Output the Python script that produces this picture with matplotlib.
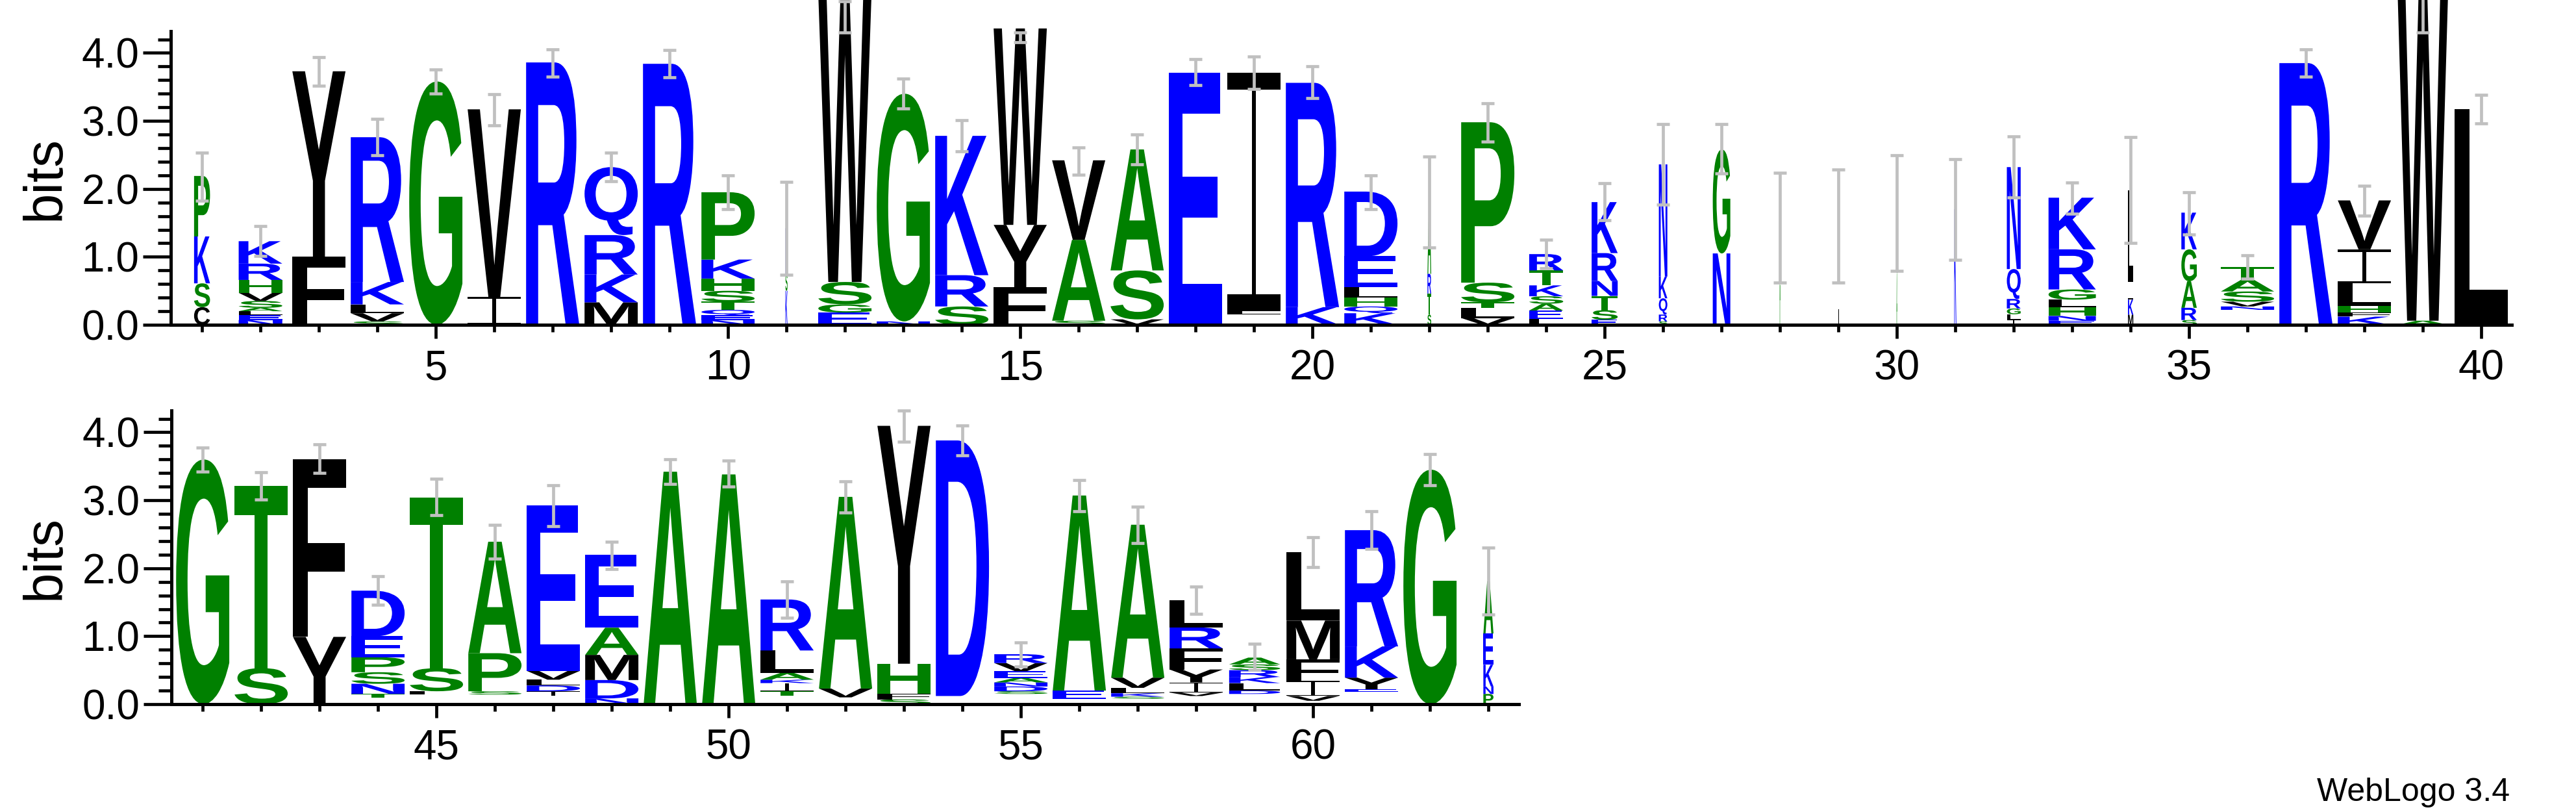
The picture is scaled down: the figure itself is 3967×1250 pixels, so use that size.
import matplotlib
matplotlib.use('Agg')
import matplotlib.pyplot as plt
from matplotlib.textpath import TextPath
from matplotlib.font_manager import FontProperties
from matplotlib.patches import PathPatch
from matplotlib.path import Path
from matplotlib.transforms import Affine2D
from matplotlib.ticker import MultipleLocator, FormatStrFormatter

plt.rcParams['font.family'] = ['Liberation Sans', 'DejaVu Sans']

# letters of each stack, bottom to top ('.' = residue too small to be drawn)
stack_letters = [
    'CSKP', 'NELASVHRK', 'FY', 'SVLKR', 'G', 'IV', 'R', 'MKRQ', 'R', 'NEQTSHKP',
    'KSR', 'EGSW', 'NG', 'SRK', 'FYW', 'SAV', 'VSA', 'E', '.LI', 'KR',
    'KQHLED', 'STRA', 'VLTSP', 'LEASKTR', 'ESTNRK', 'SRQKN', 'NG', 'A', 'L', 'AL',
    'K', 'ILGRQN', 'ENHLGRK', 'MKIL', 'SRAGK', '.NVSAT', 'R', 'KFHLIV', 'AW', 'L',
    'G', 'ST', 'YF', '.TNSPED', '.LST', '.SPA', '.IDLVE', 'NDMAE', 'A', 'A',
    '.TIKALR', '.VA', 'SFHY', '.D', '.SDNAEVR', '.EA', '.SKLVA', '.VIYFRL', '.DLKRSA', '.VIFML',
    '.EYKR', 'G', 'PNKEA',
]

# letter heights in bits, same order
stack_heights = [
    [.26, .35, .69, .89], [.07, .07, .06, .05, .10, .12, .19, .24, .33], [1.0, 2.73],
    [.05, .12, .13, .33, 2.13], [3.58], [.41, 2.76], [3.86], [.33, .41, .58, 1.0], [3.84],
    [.07, .07, .08, .12, .16, .18, .28, .99],
    [.5, .25, .67], [.18, .12, .33, 4.22], [.05, 3.35], [.27, .46, 2.05], [.55, .92, 2.89],
    [.06, 1.19, 1.17], [.08, .72, 1.78], [3.71], [.15, .05, 3.51], [.26, 3.30],
    [.17, .10, .13, .15, .46, .95], [.15, .31, .29, 1.06], [.10, .15, .08, .29, 2.36],
    [.09, .12, .10, .11, .16, .22, .24], [.075, .14, .21, .22, .41, .75],
    [.05, .10, .24, .32, 1.65], [1.05, 1.53], [1.41], [1.43], [.76, .87],
    [1.70], [.07, .085, .085, .14, .44, 1.5], [.06, .07, .13, .11, .15, .59, .76],
    [.15, .22, .28, 1.33], [.07, .18, .39, .47, .54], [.22, .05, .07, .15, .17, .19],
    [3.85], [.12, .06, .10, .33, .50, .72], [.06, 4.84], [3.17],
    [3.60], [.53, 2.68], [.99, 2.61], [.10, .05, .15, .17, .22, .31, .67], [.14, .05, .34, 2.51],
    [.14, .05, .56, 1.64], [.12, .07, .085, .085, .13, 2.43], [.085, .27, .37, .40, 1.07],
    [3.42], [3.38],
    [.12, .07, .12, .05, .10, .33, .75], [.10, .13, 2.82], [.07, .085, .44, 3.5], [.12, 3.76],
    [.15, .04, .07, .06, .065, .10, .12, .13], [.08, .12, 2.87], [.08, .03, .05, .08, .15, 2.25],
    [.12, .05, .15, .19, .31, .31, .40], [.15, .05, .11, .09, .10, .085, .10],
    [.05, .07, .22, .32, .57, 1.01],
    [.18, .04, .17, .46, 1.71], [3.45], [.15, .11, .32, .46, .77],
]

# stack width as fraction of a full column (fraction of non-gap sequences)
stack_widths = [
    .30, .82, 1, 1, 1, 1, 1, 1, 1, 1,
    .04, 1, 1, 1, 1, 1, 1, 1, 1, 1,
    1, .07, 1, .64, .49, .16, .33, .015, .015, .015,
    .04, .26, .89, .10, .29, 1, 1, 1, .95, 1,
    1, 1, 1, 1, 1, 1, 1, 1, 1, 1,
    1, 1, 1, 1, 1, 1, 1, 1, .96, 1,
    1, 1, .19,
]

err_center = [
    2.18, 1.23, 3.73, 2.76, 3.58, 3.16, 3.85, 2.32, 3.84, 1.95,
    1.42, 4.53, 3.40, 2.78, 4.23, 2.41, 2.58, 3.72, 3.71, 3.57,
    1.95, 1.81, 2.98, 1.04, 1.81, 2.36, 2.59, 1.43, 1.45, 1.64,
    1.70, 2.32, 1.86, 1.98, 1.64, 0.85, 3.85, 1.83, 4.62, 3.17,
    3.60, 3.21, 3.61, 1.67, 3.05, 2.39, 2.92, 2.19, 3.42, 3.39,
    1.54, 3.05, 4.09, 3.88, 0.73, 3.07, 2.64, 1.53, 0.70, 2.24,
    2.56, 3.45, 1.81,
]
err_half = [
    .35, .22, .21, .27, .18, .23, .20, .21, .20, .25,
    .68, .23, .22, .23, .07, .20, .22, .19, .24, .23,
    .25, .67, .28, .21, .27, .59, .36, .81, .83, .85,
    .74, .45, .23, .78, .31, .17, .20, .22, .32, .21,
    .18, .20, .21, .21, .27, .25, .30, .20, .18, .19,
    .27, .23, .23, .22, .18, .23, .27, .20, .19, .22,
    .28, .23, .49,
]

colors = {}
for c in 'GSTAPH':
    colors[c] = '#008000'
for c in 'KREDQN':
    colors[c] = '#0000ff'
for c in 'FYVWILMC':
    colors[c] = '#000000'

fp_sans = FontProperties(family='Liberation Sans', weight='bold')
glyphs = {}


def i_beam():
    # WebLogo draws I as an I-beam: full-width bars and a thin stem
    parts = []
    for x0, y0, w, h in [(0, 0, 1, .07), (.46, 0, .08, 1), (0, .93, 1, .07)]:
        parts.append(Affine2D().scale(w, h).translate(x0, y0).transform_path(Path.unit_rectangle()))
    return Path.make_compound_path(*parts)


def draw_letter(ax, ch, x, y, w, h):
    if ch not in glyphs:
        glyphs[ch] = i_beam() if ch == 'I' else TextPath((0, 0), ch, size=1, prop=fp_sans)
    tp = glyphs[ch]
    bb = tp.get_extents()
    t = Affine2D().translate(-bb.x0, -bb.y0).scale(w / bb.width, h / bb.height).translate(x - w / 2, y)
    ax.add_patch(PathPatch(t.transform_path(tp), fc=colors[ch], ec='none', lw=0,
                           clip_on=False, zorder=2))


def draw_row(ax, first, last):
    for pos in range(first, last + 1):
        i = pos - 1
        w = 0.91 * stack_widths[i]
        y = 0
        for ch, h in zip(stack_letters[i], stack_heights[i]):
            if ch != '.':
                draw_letter(ax, ch, pos, y, w, h)
            y += h
    xs = list(range(first, last + 1))
    eb = ax.errorbar(xs, err_center[first - 1:last], yerr=err_half[first - 1:last], fmt='none',
                     ecolor='#c0c0c0', elinewidth=3.4, capsize=7.5, capthick=3.4, zorder=3)
    for art in eb.lines[1] + eb.lines[2]:
        art.set_clip_on(False)

    ax.set_xlim(first - 0.535, last + 0.515)
    ax.set_ylim(0, 4.32)
    for s in ['top', 'right']:
        ax.spines[s].set_visible(False)
    for s in ['left', 'bottom']:
        ax.spines[s].set_linewidth(3.6)
    ax.xaxis.set_major_locator(MultipleLocator(5))
    ax.xaxis.set_minor_locator(MultipleLocator(1))
    ax.yaxis.set_major_locator(MultipleLocator(1))
    ax.yaxis.set_minor_locator(MultipleLocator(0.2))
    ax.yaxis.set_major_formatter(FormatStrFormatter('%.1f'))
    ax.tick_params(axis='x', which='major', length=15, width=3.4, labelsize=46, pad=12)
    ax.tick_params(axis='x', which='minor', length=8, width=3.4)
    ax.tick_params(axis='y', which='major', length=31, width=3.4, labelsize=46, pad=4)
    ax.tick_params(axis='y', which='minor', length=14.5, width=3.4)


fig = plt.figure(figsize=(39.67, 12.5), dpi=100)
ax1 = fig.add_axes([263 / 3967, 0.6, 3604.5 / 3967, 452 / 1250])
ax2 = fig.add_axes([264 / 3967, 166 / 1250, 2074.5 / 3967, 452 / 1250])
draw_row(ax1, 1, 40)
draw_row(ax2, 41, 63)

fig.text(70 / 3967, 1 - 274 / 1250, 'bits', rotation=90, ha='center', va='center', fontsize=60)
fig.text(70 / 3967, 1 - 858 / 1250, 'bits', rotation=90, ha='center', va='center', fontsize=60)
fig.text(3865 / 3967, 1 - 1233 / 1250, 'WebLogo 3.4', ha='right', va='baseline', fontsize=36)

fig.savefig('out.png', dpi=100)
